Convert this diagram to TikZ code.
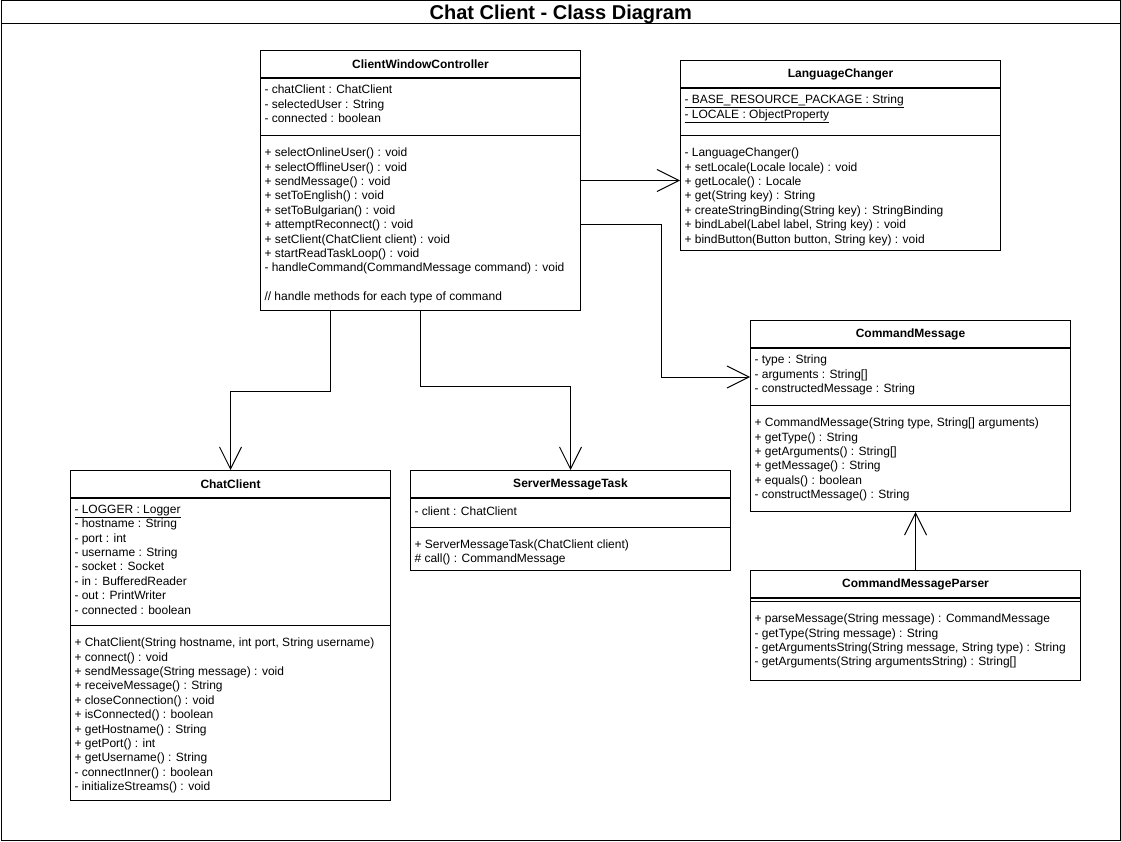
\documentclass[tikz,border=0pt]{standalone}
\usepackage{fontspec}
\setmainfont{Liberation Sans}
\usetikzlibrary{positioning,arrows.meta}
\newcommand{\classvar}[1]{\underline{#1}}

\begin{document}
\begin{tikzpicture}[x=1pt, y=-1pt, line width=1pt,
    every node/.style={font=\fontsize{12}{14.4}\selectfont, inner sep=0pt},
    classbox/.style={draw, anchor=north west, minimum width=320},
    classname/.style={draw, anchor=north west, minimum width=320, minimum height=27, font=\fontsize{12}{14.4}\selectfont\bfseries},
    attrpart/.style={draw, minimum width=320},
    members/.style={align=left, anchor=north west, execute at begin node=\strut},
    assoc/.style={-{Straight Barb[length=22pt, width=22pt]}}]
  \useasboundingbox (0,0) rectangle (1121,842);
  % Frame and title
  \node[draw, anchor=north west, minimum width=1119.5, minimum height=839.5] (frame) at (0.5,0.5) {};
  \node[draw, anchor=north west, minimum width=1119.5, minimum height=23, text depth=0pt, font=\fontsize{20}{20}\selectfont\bfseries] (title) at (0.5,0.5) {Chat Client - Class Diagram};
  % ClientWindowController
  \node[classbox, minimum height=260] (cwc) at (260,50) {};
  \node[classname] (cwc-name) at (260,50) {ClientWindowController};
  \node[attrpart, minimum height=57, below=0pt of cwc-name] (cwc-attr) {};
  \node[members, below right=6.5pt and 4pt of cwc-name.south west] (cwc-vars) {- chatClient : ChatClient\\- selectedUser : String\\- connected : boolean};
  \node[members, below right=11.5pt and 4pt of cwc-attr.south west] (cwc-ops) {+ selectOnlineUser() : void\\+ selectOfflineUser() : void\\+ sendMessage() : void\\+ setToEnglish() : void\\+ setToBulgarian() : void\\+ attemptReconnect() : void\\+ setClient(ChatClient client) : void\\+ startReadTaskLoop() : void\\- handleCommand(CommandMessage command) : void\\[14.4pt]// handle methods for each type of command};
  % LanguageChanger
  \node[classbox, minimum height=190] (lc) at (680,60) {};
  \node[classname] (lc-name) at (680,60) {LanguageChanger};
  \node[attrpart, minimum height=47, below=0pt of lc-name] (lc-attr) {};
  \node[members, below right=6.5pt and 4pt of lc-name.south west] (lc-vars) {\classvar{- BASE\_RESOURCE\_PACKAGE : String}\\\classvar{- LOCALE : ObjectProperty}};
  \node[members, below right=11.5pt and 4pt of lc-attr.south west] (lc-ops) {- LanguageChanger()\\+ setLocale(Locale locale) : void\\+ getLocale() : Locale\\+ get(String key) : String\\+ createStringBinding(String key) : StringBinding\\+ bindLabel(Label label, String key) : void\\+ bindButton(Button button, String key) : void};
  % CommandMessage
  \node[classbox, minimum height=191] (cm) at (750,320) {};
  \node[classname] (cm-name) at (750,320) {CommandMessage};
  \node[attrpart, minimum height=57, below=0pt of cm-name] (cm-attr) {};
  \node[members, below right=6.5pt and 4pt of cm-name.south west] (cm-vars) {- type : String\\- arguments : String[]\\- constructedMessage : String};
  \node[members, below right=11.5pt and 4pt of cm-attr.south west] (cm-ops) {+ CommandMessage(String type, String[] arguments)\\+ getType() : String\\+ getArguments() : String[]\\+ getMessage() : String\\+ equals() : boolean\\- constructMessage() : String};
  % CommandMessageParser
  \node[classbox, minimum width=330, minimum height=110] (cmp) at (750,570) {};
  \node[classname, minimum width=330] (cmp-name) at (750,570) {CommandMessageParser};
  \node[attrpart, minimum width=330, minimum height=3, below=0pt of cmp-name] (cmp-attr) {};
  \node[members, below right=11.5pt and 4pt of cmp-attr.south west] (cmp-ops) {+ parseMessage(String message) : CommandMessage\\- getType(String message) : String\\- getArgumentsString(String message, String type) : String\\- getArguments(String argumentsString) : String[]};
  % ChatClient
  \node[classbox, minimum height=330] (cc) at (70,470) {};
  \node[classname] (cc-name) at (70,470) {ChatClient};
  \node[attrpart, minimum height=127, below=0pt of cc-name] (cc-attr) {};
  \node[members, below right=6.5pt and 4pt of cc-name.south west] (cc-vars) {\classvar{- LOGGER : Logger}\\- hostname : String\\- port : int\\- username : String\\- socket : Socket\\- in : BufferedReader\\- out : PrintWriter\\- connected : boolean};
  \node[members, below right=11.5pt and 4pt of cc-attr.south west] (cc-ops) {+ ChatClient(String hostname, int port, String username)\\+ connect() : void\\+ sendMessage(String message) : void\\+ receiveMessage() : String\\+ closeConnection() : void\\+ isConnected() : boolean\\+ getHostname() : String\\+ getPort() : int\\+ getUsername() : String\\- connectInner() : boolean\\- initializeStreams() : void};
  % ServerMessageTask
  \node[classbox, minimum height=100] (smt) at (410,470) {};
  \node[classname] (smt-name) at (410,470) {ServerMessageTask};
  \node[attrpart, minimum height=28.5, below=0pt of smt-name] (smt-attr) {};
  \node[members, below right=6.5pt and 4pt of smt-name.south west] (smt-vars) {- client : ChatClient};
  \node[members, below right=11.5pt and 4pt of smt-attr.south west] (smt-ops) {+ ServerMessageTask(ChatClient client)\\\# call() : CommandMessage};
  % Associations
  \draw[assoc] (cwc.east) -- (cwc.east -| lc.west);
  \draw[assoc] ([yshift=-44pt]cwc.east) -- ++(80,0) |- (cm-attr.west);
  \draw[assoc] ([xshift=70pt]cwc.south west) -- ++(0,80) -| (cc.north);
  \draw[assoc] (cwc.south) -- ++(0,75) -| (smt.north);
  \draw[assoc] (cmp.north) -- (cmp.north |- cm.south);
\end{tikzpicture}
\end{document}
